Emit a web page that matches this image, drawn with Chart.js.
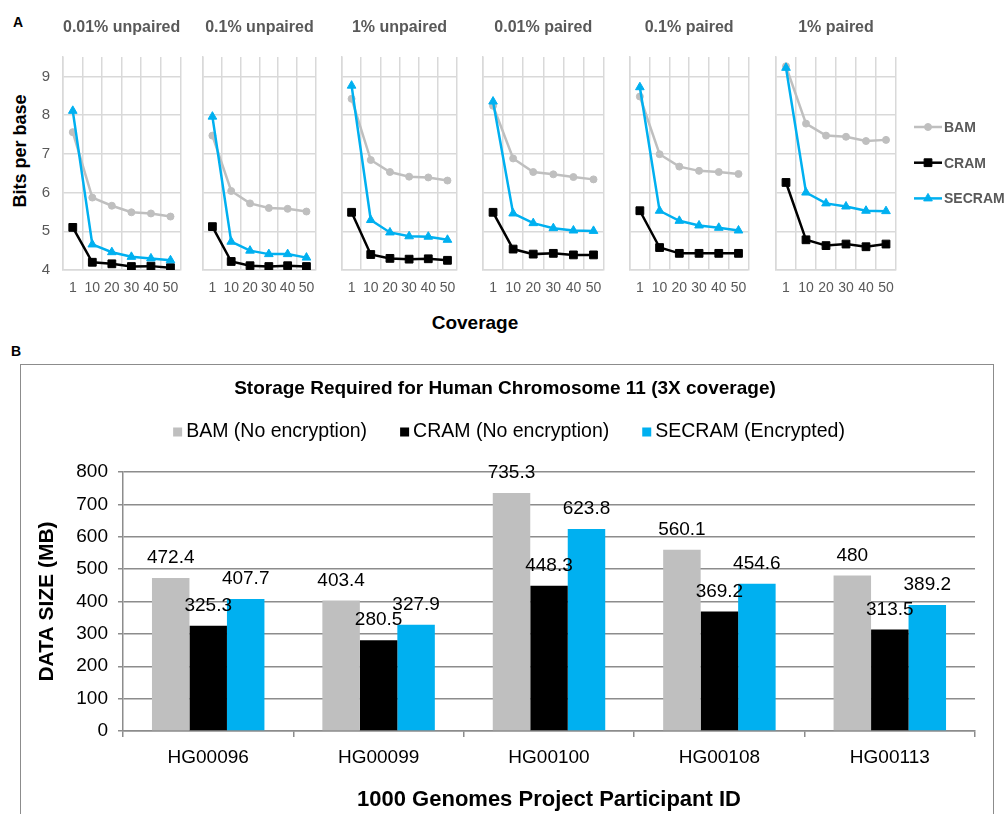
<!DOCTYPE html>
<html>
<head>
<meta charset="utf-8">
<title>Bits per base and storage size: BAM, CRAM, SECRAM</title>
<script src="https://cdn.jsdelivr.net/npm/chart.js"></script>
<style>
  html, body { margin: 0; padding: 0; background: #fff; }
  body { width: 1008px; height: 814px; position: relative; overflow: hidden;
         font-family: 'Liberation Sans', Arial, Helvetica, sans-serif; }
  canvas { position: absolute; }
  .lbl { position: absolute; white-space: nowrap; line-height: 1; font-weight: bold;
         transform: translate(-50%, -50%); }
  #frameB { position: absolute; left: 20px; top: 364px; width: 972px; height: 480px;
            border: 1.5px solid #8c8c8c; }
</style>
</head>
<body>
<div class="lbl" style="left:18px; top:22px; font-size:14px; color:#000;">A</div>
<div class="lbl" style="left:16px; top:351px; font-size:14px; color:#000;">B</div>
<div class="lbl" style="left:20px; top:151px; font-size:18px; color:#000; transform: translate(-50%, -50%) rotate(-90deg);">Bits per base</div>
<div class="lbl" style="left:475px; top:322px; font-size:19px; color:#000;">Coverage</div>
<div id="frameB"></div>

<script>
// ---------- data ----------
const coverage = ['1', '10', '20', '30', '40', '50'];
const panelTitles = ['0.01% unpaired', '0.1% unpaired', '1% unpaired',
                     '0.01% paired', '0.1% paired', '1% paired'];
const bitsTicks = [4, 5, 6, 7, 8, 9];

// bits per base, one row per panel, one value per coverage level
const bamBits = [
  [7.56, 5.87, 5.66, 5.49, 5.46, 5.38],
  [7.47, 6.04, 5.72, 5.60, 5.58, 5.51],
  [8.42, 6.84, 6.53, 6.41, 6.39, 6.31],
  [8.24, 6.88, 6.53, 6.47, 6.40, 6.34],
  [8.48, 6.99, 6.67, 6.56, 6.53, 6.48],
  [9.26, 7.78, 7.47, 7.44, 7.33, 7.36]
];
const cramBits = [
  [5.10, 4.20, 4.16, 4.09, 4.10, 4.06],
  [5.12, 4.22, 4.11, 4.09, 4.11, 4.09],
  [5.49, 4.40, 4.30, 4.28, 4.29, 4.25],
  [5.49, 4.54, 4.41, 4.43, 4.39, 4.39],
  [5.53, 4.58, 4.43, 4.43, 4.43, 4.43],
  [6.26, 4.78, 4.63, 4.67, 4.60, 4.67]
];
const secramBits = [
  [8.11, 4.66, 4.46, 4.34, 4.30, 4.25],
  [7.96, 4.73, 4.50, 4.41, 4.41, 4.32],
  [8.76, 5.29, 4.97, 4.87, 4.86, 4.78],
  [8.35, 5.46, 5.21, 5.08, 5.02, 5.01],
  [8.72, 5.53, 5.27, 5.15, 5.09, 5.02],
  [9.22, 6.00, 5.72, 5.64, 5.53, 5.52]
];

const participants = ['HG00096', 'HG00099', 'HG00100', 'HG00108', 'HG00113'];
const bamMB    = [472.4, 403.4, 735.3, 560.1, 480];
const cramMB   = [325.3, 280.5, 448.3, 369.2, 313.5];
const secramMB = [407.7, 327.9, 623.8, 454.6, 389.2];

// ---------- shared styling ----------
const FONT = "'Liberation Sans', Arial, Helvetica, sans-serif";
const GREY_TEXT = '#595959';
const LIGHT_GRID = '#d9d9d9';
const DARK_GRID = '#8c8c8c';

const lineSeries = [
  { label: 'BAM',    values: bamBits,    color: '#bfbfbf', pointStyle: 'circle',   radius: 3.5, order: 3 },
  { label: 'CRAM',   values: cramBits,   color: '#000000', pointStyle: 'rect',     radius: 5.5, order: 2 },
  { label: 'SECRAM', values: secramBits, color: '#00b0f0', pointStyle: 'triangle', radius: 5,   order: 1 }
];

// layout of the six small panels (page pixels)
const plotLeft  = [63, 203, 342, 483, 630, 776];
const plotRight = [185, 321, 462, 608, 753, 896];
const PLOT_TOP = 57, PLOT_BOTTOM = 270, CANVAS_TOP = 10;
const Y_AXIS_W = 30, X_AXIS_H = 30;

function drawMarker(ctx, style, x, y, r) {
  ctx.beginPath();
  if (style === 'circle') {
    ctx.arc(x, y, r, 0, Math.PI * 2);
  } else if (style === 'rect') {
    const s = r * Math.SQRT1_2;
    ctx.rect(x - s, y - s, 2 * s, 2 * s);
  } else {
    let a = 0;
    ctx.moveTo(x + Math.sin(a) * r, y - Math.cos(a) * r);
    a += 2 * Math.PI / 3; ctx.lineTo(x + Math.sin(a) * r, y - Math.cos(a) * r);
    a += 2 * Math.PI / 3; ctx.lineTo(x + Math.sin(a) * r, y - Math.cos(a) * r);
    ctx.closePath();
  }
  ctx.fill();
  ctx.stroke();
}

// legend to the right of the last panel: line + marker + bold name
const seriesLegend = {
  id: 'seriesLegend',
  afterDraw(chart, args, opts) {
    const ctx = chart.ctx;
    const area = chart.chartArea;
    ctx.save();
    ctx.font = 'bold 14px ' + FONT;
    ctx.textBaseline = 'middle';
    ctx.textAlign = 'left';
    chart.data.datasets.forEach((ds, i) => {
      const y = area.top + opts.firstRow + i * opts.rowStep;
      const x0 = area.right + opts.gap;
      ctx.strokeStyle = ds.borderColor;
      ctx.fillStyle = ds.borderColor;
      ctx.lineWidth = 2.5;
      ctx.beginPath();
      ctx.moveTo(x0, y);
      ctx.lineTo(x0 + opts.lineLen, y);
      ctx.stroke();
      ctx.lineWidth = 1;
      drawMarker(ctx, ds.pointStyle, x0 + opts.lineLen / 2, y, ds.pointRadius);
      ctx.fillStyle = GREY_TEXT;
      ctx.fillText(ds.label, x0 + opts.lineLen + 2, y + 1);
    });
    ctx.restore();
  }
};

function buildPanel(i) {
  const first = i === 0;
  const last = i === panelTitles.length - 1;
  const rightPad = last ? 1008 - plotRight[i] : 4;
  const canvas = document.createElement('canvas');
  canvas.width = Y_AXIS_W + (plotRight[i] - plotLeft[i]) + rightPad;
  canvas.height = (PLOT_BOTTOM - CANVAS_TOP) + X_AXIS_H;
  canvas.style.left = (plotLeft[i] - Y_AXIS_W) + 'px';
  canvas.style.top = CANVAS_TOP + 'px';
  document.body.appendChild(canvas);

  new Chart(canvas, {
    type: 'line',
    data: {
      labels: coverage,
      datasets: lineSeries.map(s => ({
        label: s.label,
        data: s.values[i],
        borderColor: s.color,
        backgroundColor: s.color,
        pointBackgroundColor: s.color,
        pointBorderColor: s.color,
        pointStyle: s.pointStyle,
        pointRadius: s.radius,
        pointBorderWidth: 1,
        borderWidth: 2.5,
        tension: 0,
        order: s.order
      }))
    },
    options: {
      responsive: false,
      animation: false,
      events: [],
      layout: { padding: { top: 0, right: rightPad, bottom: 0, left: 0 } },
      plugins: {
        legend: { display: false },
        tooltip: { enabled: false },
        title: {
          display: true,
          text: panelTitles[i],
          fullSize: false,
          color: GREY_TEXT,
          font: { family: FONT, size: 16, weight: 'bold' },
          padding: { top: 8.4, bottom: 19.4 }
        },
        seriesLegend: { gap: 18, lineLen: 28, firstRow: 70, rowStep: 35.7 }
      },
      scales: {
        x: {
          type: 'category',
          offset: true,
          grid: { offset: true, color: LIGHT_GRID, lineWidth: 1.5, drawTicks: false },
          border: { color: LIGHT_GRID, width: 1.5 },
          ticks: { color: GREY_TEXT, font: { family: FONT, size: 14 }, padding: 10,
                   maxRotation: 0, autoSkip: false },
          afterFit(scale) { scale.height = X_AXIS_H; }
        },
        y: {
          min: 4,
          max: 9.5,
          afterBuildTicks(scale) { scale.ticks = bitsTicks.map(v => ({ value: v })); },
          grid: { color: LIGHT_GRID, lineWidth: 1.5, drawTicks: false },
          border: { color: LIGHT_GRID, width: 1.5 },
          ticks: { display: first, color: GREY_TEXT, font: { family: FONT, size: 15 }, padding: 13 },
          afterFit(scale) { scale.width = Y_AXIS_W; }
        }
      }
    },
    plugins: last ? [seriesLegend] : []
  });
}

panelTitles.forEach((t, i) => buildPanel(i));

// ---------- panel B: grouped bars ----------
const headerLegend = {
  id: 'headerLegend',
  afterDraw(chart, args, opts) {
    const ctx = chart.ctx;
    ctx.save();
    ctx.font = opts.size + 'px ' + FONT;
    ctx.textBaseline = 'middle';
    ctx.textAlign = 'left';
    const items = chart.data.datasets.map(ds => ({
      text: ds.label, color: ds.backgroundColor, w: ctx.measureText(ds.label).width
    }));
    const total = items.reduce((s, it) => s + opts.box + opts.gap + it.w, 0) +
                  opts.spacing * (items.length - 1);
    const tb = chart.titleBlock;
    const cx = (tb ? (tb.left + tb.right) / 2 : chart.width / 2) + opts.shift;
    let x = cx - total / 2;
    items.forEach(it => {
      ctx.fillStyle = it.color;
      ctx.fillRect(x, opts.y - opts.box / 2, opts.box, opts.box);
      x += opts.box + opts.gap;
      ctx.fillStyle = '#000';
      ctx.fillText(it.text, x, opts.y);
      x += it.w + opts.spacing;
    });
    ctx.restore();
  }
};

const barValues = {
  id: 'barValues',
  afterDatasetsDraw(chart, args, opts) {
    const ctx = chart.ctx;
    ctx.save();
    ctx.font = opts.size + 'px ' + FONT;
    ctx.fillStyle = '#000';
    ctx.textAlign = 'center';
    ctx.textBaseline = 'middle';
    chart.data.datasets.forEach((ds, i) => {
      chart.getDatasetMeta(i).data.forEach((bar, j) => {
        ctx.fillText(String(ds.data[j]), bar.x, bar.y - opts.offset);
      });
    });
    ctx.restore();
  }
};

const canvasB = document.createElement('canvas');
canvasB.width = 982;
canvasB.height = 450;
canvasB.style.left = '11px';
canvasB.style.top = '364px';
document.body.appendChild(canvasB);

new Chart(canvasB, {
  type: 'bar',
  data: {
    labels: participants,
    datasets: [
      { label: 'BAM (No encryption)',  data: bamMB,    backgroundColor: '#bfbfbf' },
      { label: 'CRAM (No encryption)', data: cramMB,   backgroundColor: '#000000' },
      { label: 'SECRAM (Encrypted)',   data: secramMB, backgroundColor: '#00b0f0' }
    ]
  },
  options: {
    responsive: false,
    animation: false,
    events: [],
    datasets: { bar: { categoryPercentage: 0.66, barPercentage: 1, borderWidth: 0 } },
    layout: { padding: { top: 0, right: 18, bottom: 0, left: 24 } },
    plugins: {
      legend: { display: false },
      tooltip: { enabled: false },
      title: {
        display: true,
        text: 'Storage Required for Human Chromosome 11 (3X coverage)',
        color: '#000',
        font: { family: FONT, size: 19, weight: 'bold' },
        padding: { top: 13.6, bottom: 71.6 }
      },
      headerLegend: { y: 68, size: 19.5, box: 9, gap: 4, spacing: 33, shift: 4 },
      barValues: { size: 19, offset: 20 }
    },
    scales: {
      x: {
        grid: { drawOnChartArea: false, drawTicks: true, tickLength: 6, offset: true,
                color: DARK_GRID, lineWidth: 1.5 },
        border: { color: DARK_GRID, width: 1.5 },
        ticks: { color: '#000', font: { family: FONT, size: 19 }, padding: 9, maxRotation: 0 },
        title: {
          display: true,
          text: '1000 Genomes Project Participant ID',
          color: '#000',
          font: { family: FONT, size: 22, weight: 'bold' },
          padding: { top: 0, bottom: 1 }
        },
        afterFit(scale) { scale.height = 83; }
      },
      y: {
        min: 0,
        max: 800,
        ticks: { stepSize: 100, color: '#000', font: { family: FONT, size: 19 }, padding: 10 },
        grid: { color: DARK_GRID, lineWidth: 1.5, tickLength: 5 },
        border: { color: DARK_GRID, width: 1.5 },
        title: {
          display: true,
          text: 'DATA SIZE (MB)',
          color: '#000',
          font: { family: FONT, size: 21, weight: 'bold' },
          padding: { top: 0, bottom: 0 }
        },
        afterFit(scale) { scale.width = 88; }
      }
    }
  },
  plugins: [headerLegend, barValues]
});
</script>
</body>
</html>
